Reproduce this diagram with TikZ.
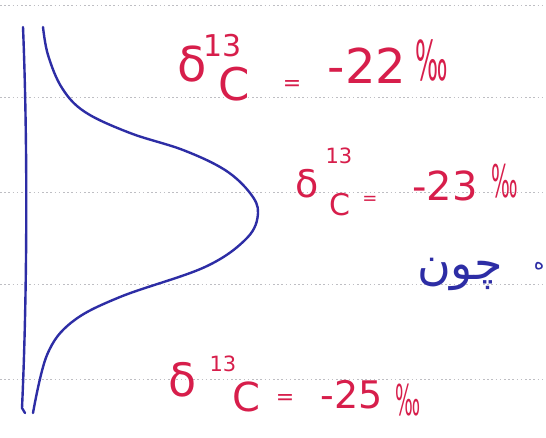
\documentclass[tikz,border=0pt]{standalone}
\usepackage{fontspec}
\usepackage{graphicx}
\setsansfont{DejaVu Sans}
\newfontfamily\dvs{DejaVu Sans}
\newfontfamily\arabicfont[Script=Arabic]{DejaVu Sans}
\TeXXeTstate=1
\definecolor{inkred}{RGB}{215,30,75}
\definecolor{inkblue}{RGB}{45,45,165}
\definecolor{rule}{RGB}{190,190,195}
\newcommand{\fsz}[1]{\fontsize{#1}{#1}\selectfont}
\newcommand{\pmil}[1]{\scalebox{0.55}[1.25]{\dvs\fsz{#1}‰}}
\tikzset{
  ruling/.style={rule, line width=0.8pt, dash pattern=on 1.6pt off 2.6pt},
  pen/.style={inkblue, line width=2.4pt, line cap=round, line join=round},
  lab/.style={inkred, inner sep=0pt},
  farsi/.style={inkblue, inner sep=0pt, font=\fsz{46}\arabicfont}
}
\begin{document}
\begin{tikzpicture}[x=1pt,y=-1pt]
\fill[white] (0,0) rectangle (546,438);
\useasboundingbox (0,0) rectangle (546,438);
\clip (0,0) rectangle (546,438);
% ruled lines
\foreach \yy in {5,97,192,284,379} \draw[ruling] (0,\yy) -- (546,\yy);
% axis
\draw[pen] (23,27) .. controls (28,150) and (27,300) .. (22,408) -- (25,413);
% bell curve
\draw[pen] plot[smooth, tension=0.6] coordinates {(43,27) (48,55) (62,88) (85,112) (130,133) (183,150) (225,170) (250,193) (258,213) (247,238) (205,267) (120,297) (72,322) (47,355) (33,413)};
% label 1
\node[lab, font=\fsz{48}\sffamily] (d1) at (192,64) {δ};
\node[lab, font=\fsz{30}\sffamily] (s1) at (223,46) {13};
\node[lab, font=\fsz{45}\sffamily] (c1) at (234,84) {C};
\node[lab, font=\fsz{22}\sffamily] (e1) at (292,86) {=};
\node[lab, font=\fsz{48}\sffamily] (v1) at (367,66) {-22};
\node[lab] (p1) at (432,60) {\pmil{44}};
% label 2
\node[lab, font=\fsz{38}\sffamily] (d2) at (307,184) {δ};
\node[lab, font=\fsz{21}\sffamily] (s2) at (339,156) {13};
\node[lab, font=\fsz{30}\sffamily] (c2) at (340,205) {C};
\node[lab, font=\fsz{18}\sffamily] (e2) at (370,200) {=};
\node[lab, font=\fsz{40}\sffamily] (v2) at (445,186) {-23};
\node[lab] (p2) at (505,181) {\pmil{36}};
% label 3
\node[lab, font=\fsz{46}\sffamily] (d3) at (183,380) {δ};
\node[lab, font=\fsz{21}\sffamily] (s3) at (223,364) {13};
\node[lab, font=\fsz{40}\sffamily] (c3) at (246,397) {C};
\node[lab, font=\fsz{22}\sffamily] (e3) at (285,400) {=};
\node[lab, font=\fsz{38}\sffamily] (v3) at (352,395) {-25};
\node[lab] (p3) at (408,400) {\pmil{34}};
% persian
\node[farsi] (f1) at (460,274) {\beginR چون\endR};
\node[farsi, font=\fsz{20}\arabicfont] (f2) at (539,266) {\beginR ه\endR};
\end{tikzpicture}
\end{document}
